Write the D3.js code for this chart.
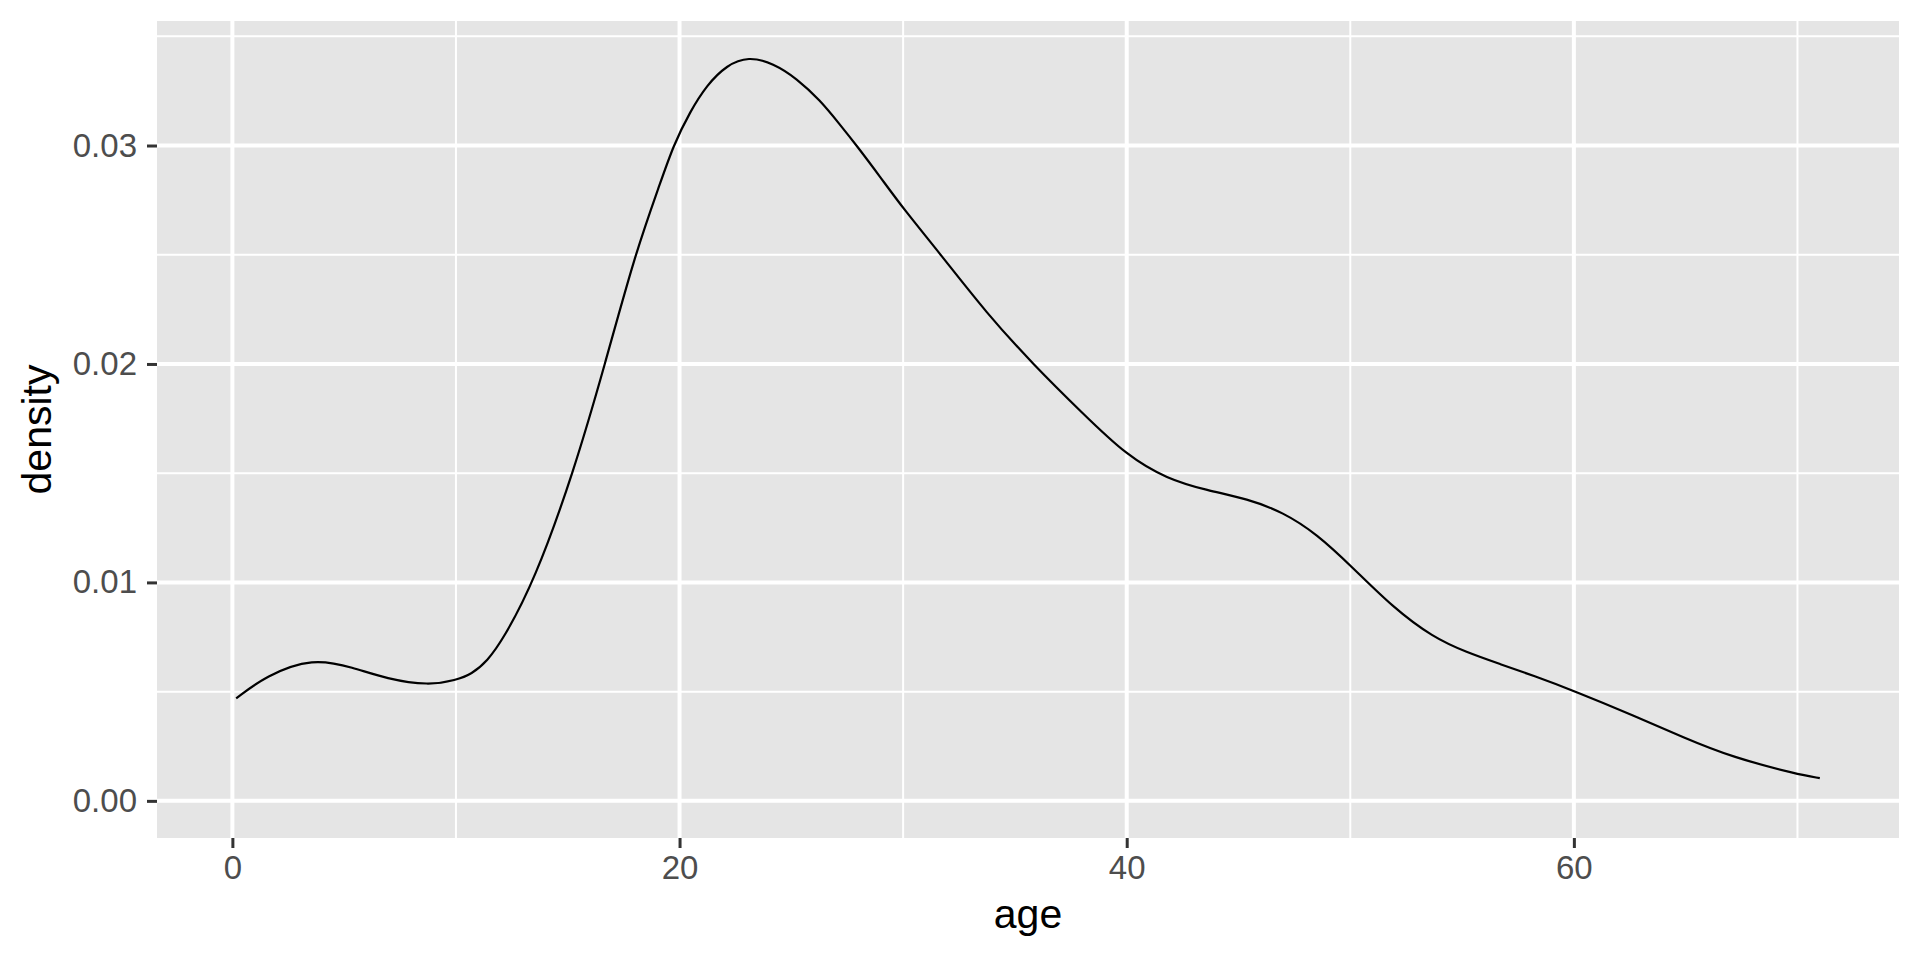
<!DOCTYPE html>
<html>
<head>
<meta charset="utf-8">
<script src="https://cdn.jsdelivr.net/npm/d3@7"></script>
<style>
  body { margin: 0; background: #fff; }
  text { font-family: "Liberation Sans", Arial, sans-serif; }
</style>
</head>
<body>
<div id="chart"></div>
<script>
// density estimate of age
let ages = [0.17, 1.5, 3.6, 5.4, 6.9, 8.8, 10.0, 10.7, 11.4, 12.1, 13.5, 15.25, 16.67, 18.0, 19.13,
  19.72, 20.47, 21.22, 22.11, 23.08, 24.2, 25.24, 26.28, 27.18, 27.92, 28.97, 30.0, 31.65,
  33.75, 35.8, 38.05, 40.0, 41.8, 43.6, 45.4, 47.0, 48.5, 50.1, 51.9, 53.7, 55.2, 56.7,
  58.2, 60.0, 62.7, 64.9, 67.1, 70.0, 71.0];
let density = [0.00469, 0.00573, 0.00655, 0.00611, 0.00558, 0.00528, 0.00553, 0.0058, 0.0064, 0.00738,
  0.01004, 0.0150, 0.0200, 0.0250, 0.02826, 0.0300, 0.03155, 0.03277, 0.03368, 0.03408,
  0.03376, 0.03307, 0.03208, 0.03095, 0.0300, 0.02857, 0.02712, 0.02505, 0.0223, 0.0200,
  0.01772, 0.01581, 0.01474, 0.01421, 0.01383, 0.01321, 0.01222, 0.01069, 0.00886, 0.00748,
  0.0068, 0.00626, 0.00573, 0.00504, 0.0039, 0.0029, 0.00199, 0.00122, 0.00104];

let xMajor = [0, 20, 40, 60];
let xMinor = [10, 30, 50, 70];
let yMajor = [0, 0.01, 0.02, 0.03];
let yMinor = [0.005, 0.015, 0.025, 0.035];

let width = 1920;
let height = 960;
let margin = { top: 21, right: 21, bottom: 122, left: 157 }; // panel box

let data = ages.map(function(a, i) { return { age: a, d: density[i] }; });

let svg = d3.select('#chart')
  .append('svg')
  .attr('width', width)
  .attr('height', height);

// ggplot style 5% expansion on both axes
let xExt = d3.extent(ages);
let xPad = (xExt[1] - xExt[0]) * 0.05;
let yMax = 0.03400; // top of the drawn curve
let yPad = yMax * 0.05;

let xScale = d3.scaleLinear()
  .domain([xExt[0] - xPad, xExt[1] + xPad])
  .range([margin.left, width - margin.right]);

let yScale = d3.scaleLinear()
  .domain([-yPad, yMax + yPad])
  .range([height - margin.bottom, margin.top]);

// grey panel
svg.append('rect')
  .attr('x', margin.left)
  .attr('y', margin.top)
  .attr('width', width - margin.left - margin.right)
  .attr('height', height - margin.top - margin.bottom)
  .attr('fill', '#E5E5E5');

let grid = svg.append('g').attr('stroke', '#fff');

// minor grid lines
grid.selectAll('.xminor').data(xMinor).enter().append('line')
  .attr('x1', d => xScale(d)).attr('x2', d => xScale(d))
  .attr('y1', margin.top).attr('y2', height - margin.bottom)
  .attr('stroke-width', 2);
grid.selectAll('.yminor').data(yMinor).enter().append('line')
  .attr('y1', d => yScale(d)).attr('y2', d => yScale(d))
  .attr('x1', margin.left).attr('x2', width - margin.right)
  .attr('stroke-width', 2);

// major grid lines
grid.selectAll('.xmajor').data(xMajor).enter().append('line')
  .attr('x1', d => xScale(d)).attr('x2', d => xScale(d))
  .attr('y1', margin.top).attr('y2', height - margin.bottom)
  .attr('stroke-width', 4);
grid.selectAll('.ymajor').data(yMajor).enter().append('line')
  .attr('y1', d => yScale(d)).attr('y2', d => yScale(d))
  .attr('x1', margin.left).attr('x2', width - margin.right)
  .attr('stroke-width', 4);

// density curve
let line = d3.line()
  .x(d => xScale(d.age))
  .y(d => yScale(d.d))
  .curve(d3.curveBasis);

svg.append('path')
  .datum(data)
  .attr('d', line)
  .attr('fill', 'none')
  .attr('stroke', '#000')
  .attr('stroke-width', 2.2);

// axes
let xAxis = svg.append('g')
  .attr('transform', `translate(0,${height - margin.bottom})`)
  .call(d3.axisBottom(xScale).tickValues(xMajor).tickSize(10).tickPadding(8).tickFormat(d3.format('d')));

let yAxis = svg.append('g')
  .attr('transform', `translate(${margin.left},0)`)
  .call(d3.axisLeft(yScale).tickValues(yMajor).tickSize(10).tickPadding(10).tickFormat(d3.format('.2f')));

[xAxis, yAxis].forEach(function(ax) {
  ax.select('.domain').remove();
  ax.selectAll('.tick line').attr('stroke', '#333333').attr('stroke-width', 3);
  ax.selectAll('.tick text')
    .attr('fill', '#4D4D4D')
    .style('font-size', '33px');
});

// axis titles
svg.append('text')
  .attr('x', (margin.left + width - margin.right) / 2)
  .attr('y', 928)
  .attr('text-anchor', 'middle')
  .style('font-size', '41px')
  .attr('fill', '#000')
  .text('age');

svg.append('text')
  .attr('transform', `translate(51,${(margin.top + height - margin.bottom) / 2}) rotate(-90)`)
  .attr('text-anchor', 'middle')
  .style('font-size', '41px')
  .attr('fill', '#000')
  .text('density');
</script>
</body>
</html>
